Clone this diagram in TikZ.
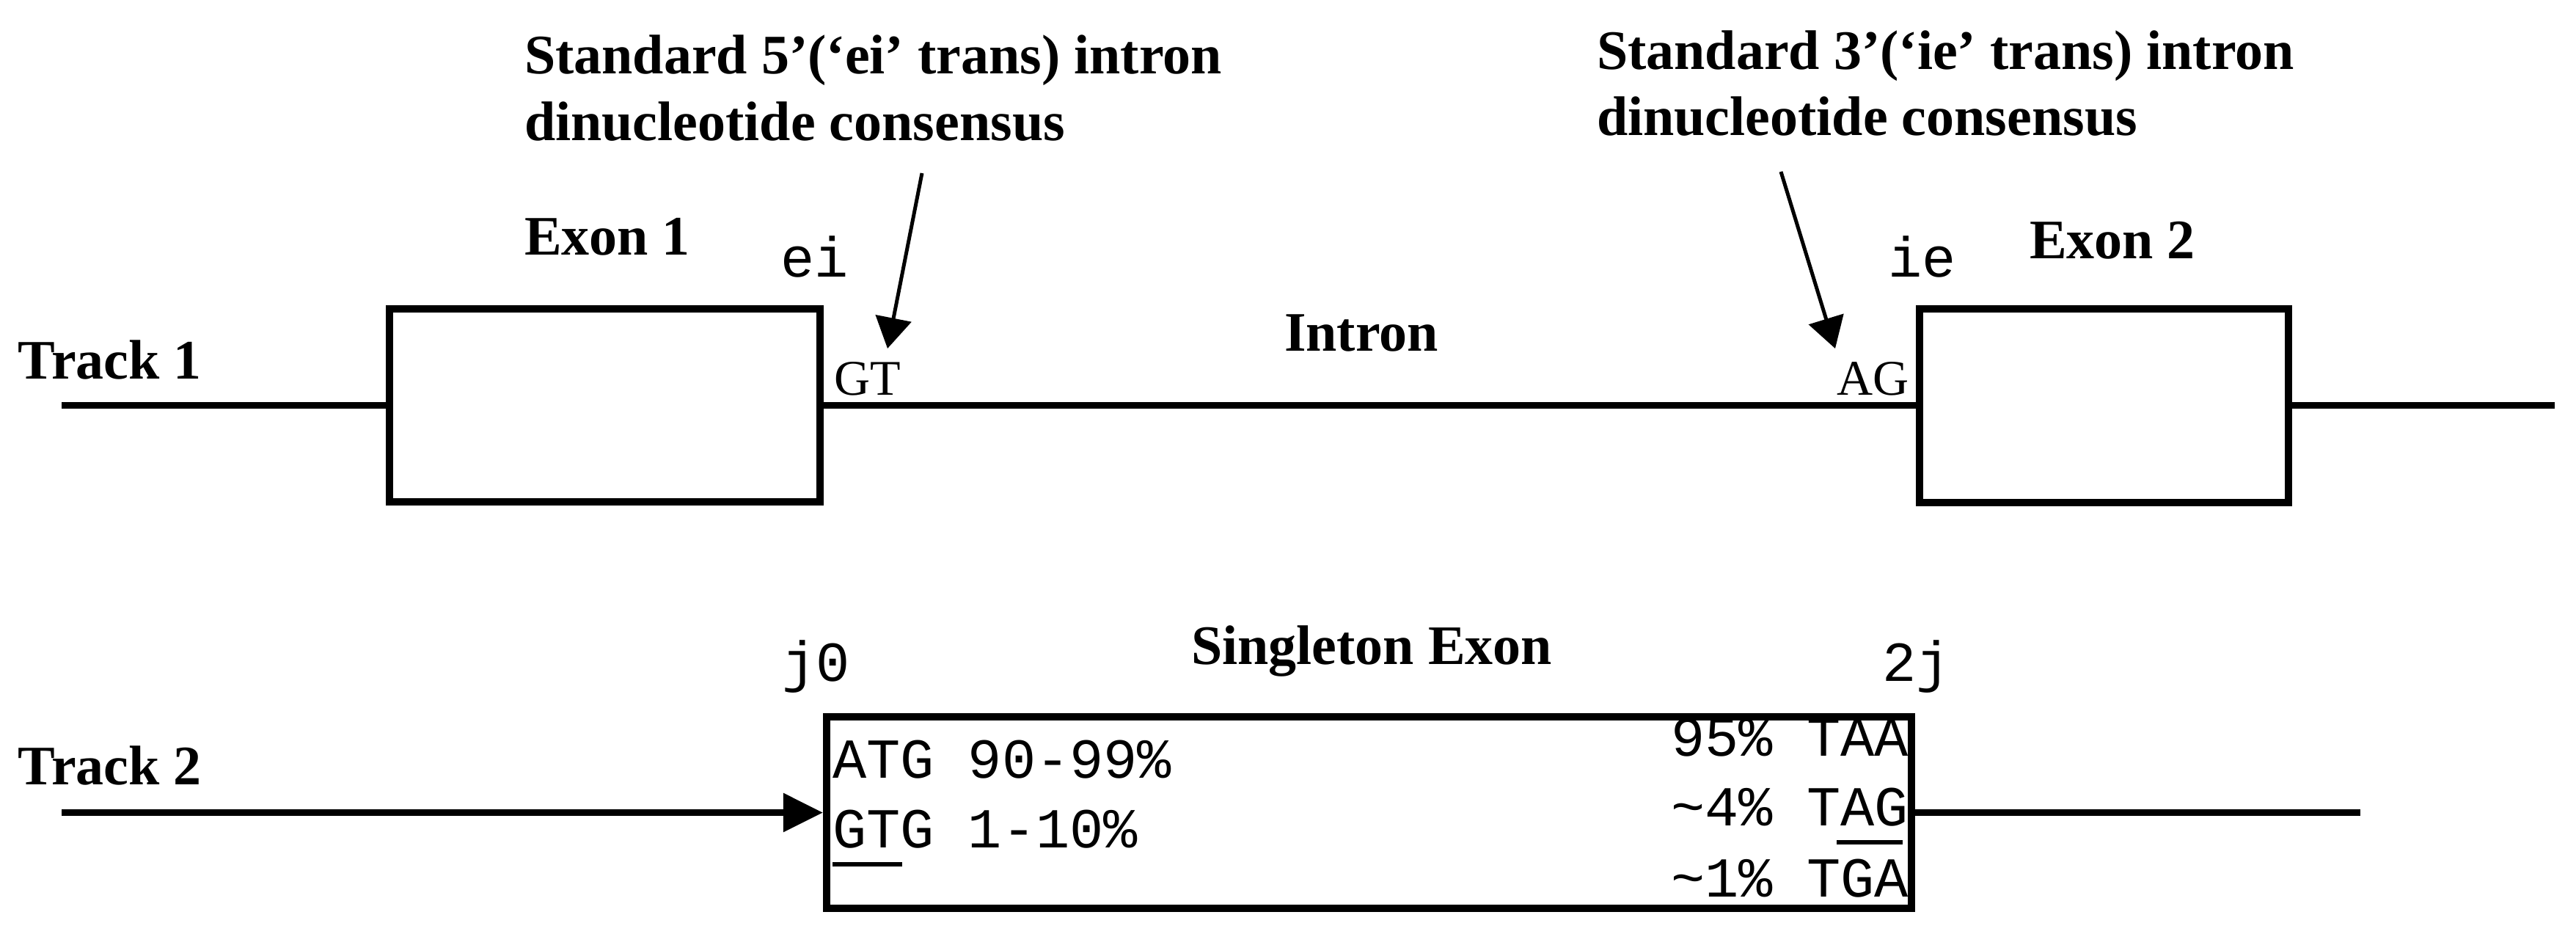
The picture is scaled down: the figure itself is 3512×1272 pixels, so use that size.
\documentclass[tikz,border=0pt]{standalone}
\usepackage{fontspec}
\setmainfont{Liberation Serif}
\setmonofont{Liberation Mono}
\usetikzlibrary{arrows.meta}
\begin{document}
\begin{tikzpicture}[x=0.2pt,y=-0.2pt,
  lbl/.style={font=\fontsize{15.2}{18}\selectfont\bfseries, inner sep=0pt, outer sep=0pt},
  mono/.style={font=\fontsize{15.4}{18}\selectfont\ttfamily, inner sep=0pt, outer sep=0pt},
  nuc/.style={font=\fontsize{13.6}{16}\selectfont, inner sep=0pt, outer sep=0pt},
  exonbox/.style={draw, line width=2pt, inner sep=0pt, fill=white},
  track/.style={line width=1.8pt},
  pointer/.style={line width=1pt, -{Triangle[length=8.4pt,width=9.8pt]}},
  uline/.style={line width=1.1pt}]
\path[fill=white] (0,0) rectangle (3512,1272);
\useasboundingbox (0,0) rectangle (3512,1272);

% exon boxes
\node[exonbox, minimum width=117.4pt, minimum height=52.6pt] (exon1) at (824.5,552.5) {};
\node[exonbox, minimum width=100.6pt, minimum height=52.8pt] (exon2) at (2868.5,552.5) {};
\node[exonbox, minimum width=295.8pt, minimum height=52.2pt] (single) at (1866.5,1107.5) {};

% track 1
\coordinate (t1s) at (84,552.5);
\coordinate (t1e) at (3483,552.5);
\draw[track] (t1s) -- (exon1.west);
\draw[track] (exon1.east) -- (exon2.west);
\draw[track] (exon2.east) -- (t1e);

% track 2
\coordinate (t2s) at (84,1107.5);
\coordinate (t2e) at (3218,1107.5);
\draw[track, -{Triangle[length=10.8pt,width=10.2pt]}] (t2s) -- (single.west);
\draw[track] (single.east) -- (t2e);

% bold labels
\node[lbl, anchor=base west] (track1) at (25,516) {Track 1};
\node[lbl, anchor=base west] (track2) at (25,1069) {Track 2};
\node[lbl, anchor=base west] (exon1lbl) at (715,347) {Exon 1};
\node[lbl, anchor=base west] (exon2lbl) at (2767,352) {Exon 2};
\node[lbl, anchor=base west] (intronlbl) at (1751,478) {Intron};
\node[lbl, anchor=base west] (singlelbl) at (1624,905) {Singleton Exon};
\node[lbl, anchor=base west] (ann1a) at (715,100) {Standard 5’(‘ei’ trans) intron};
\node[lbl, anchor=base west] (ann1b) at (715,191) {dinucleotide consensus};
\node[lbl, anchor=base west] (ann2a) at (2177,94) {Standard 3’(‘ie’ trans) intron};
\node[lbl, anchor=base west] (ann2b) at (2177,184) {dinucleotide consensus};

% mono labels
\node[mono, anchor=base west] (ei) at (1064,377) {ei};
\node[mono, anchor=base west] (ie) at (2574,377) {ie};
\node[mono, anchor=base west] (j0) at (1066,928) {j0};
\node[mono, anchor=base west] (twoj) at (2566,928) {2j};

% dinucleotides
\node[nuc, anchor=base west] (gt) at (1137,538) {GT};
\node[nuc, anchor=base west] (ag) at (2504,538) {AG};

% singleton exon contents
\node[mono, anchor=base west] (atg) at (1135,1060) {ATG 90-99\%};
\node[mono, anchor=base west] (gtg) at (1135,1155) {GTG 1-10\%};
\node[mono, anchor=base east] (taa) at (2602,1030) {95\% TAA};
\node[mono, anchor=base east] (tag) at (2602,1125) {\textasciitilde4\% TAG};
\node[mono, anchor=base east] (tga) at (2602,1222) {\textasciitilde1\% TGA};
\draw[uline] (1135,1178) -- (1230,1178);
\draw[uline] (2504,1148) -- (2594,1148);

% pointer arrows
\coordinate (p1s) at (1257,236);
\coordinate (p1e) at (1210,475);
\coordinate (p2s) at (2428,234);
\coordinate (p2e) at (2502,475);
\draw[pointer] (p1s) -- (p1e);
\draw[pointer] (p2s) -- (p2e);
\end{tikzpicture}
\end{document}
